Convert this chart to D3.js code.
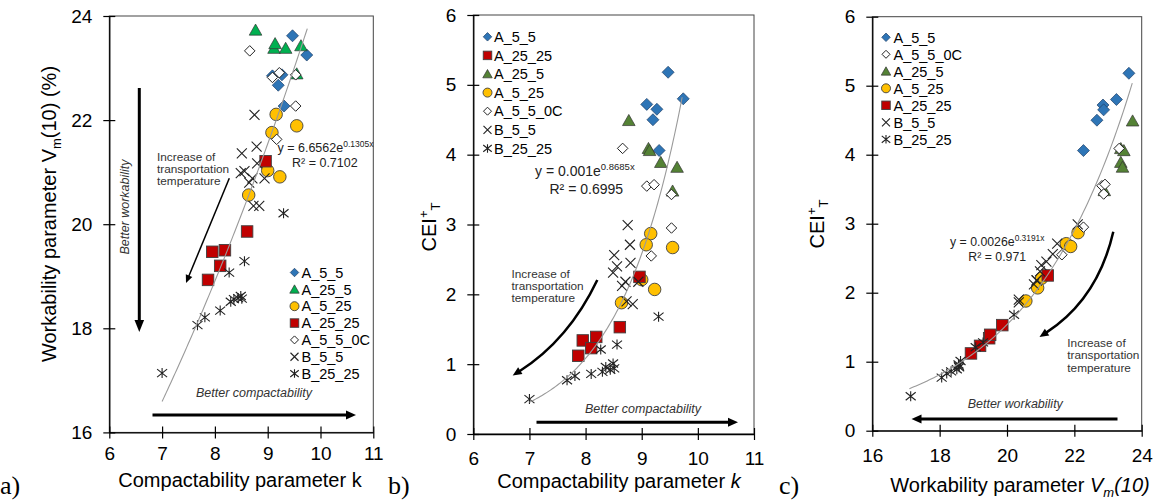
<!DOCTYPE html>
<html><head><meta charset="utf-8">
<script src="https://cdn.jsdelivr.net/npm/d3@7"></script>
<style>body{margin:0;background:#fff} svg{display:block}</style>
</head><body><svg id="c" width="1159" height="504"></svg>
<script>
// ---------------- DATA ----------------
const seriesNames = ["A_5_5","A_25_5","A_5_25","A_25_25","A_5_5_0C","B_5_5","B_25_25"];

const k_A_5_5   = [9.47, 9.74, 9.09, 9.27, 9.20, 9.31];
const vm_A_5_5  = [23.62, 23.25, 22.85, 22.87, 22.67, 22.27];
const cei_A_5_5 = [5.18, 4.80, 4.72, 4.65, 4.50, 4.06];

const k_A_25_5   = [8.77, 9.12, 9.14, 9.34, 9.63, 9.55];
const vm_A_25_5  = [23.73, 23.38, 23.47, 23.38, 23.43, 22.89];
const cei_A_25_5 = [4.49, 4.09, 4.06, 3.89, 3.82, 3.48];

const k_A_5_25   = [9.16, 9.08, 9.55, 9.00, 9.23, 8.64];
const vm_A_5_25  = [22.11, 21.76, 21.89, 21.03, 20.91, 20.56];
const cei_A_5_25 = [2.87, 2.71, 2.67, 2.21, 2.07, 1.88];

const k_A_25_25   = [8.96, 8.61, 7.95, 8.19, 8.10, 7.87];
const vm_A_25_25  = [21.21, 19.86, 19.47, 19.50, 19.20, 18.93];
const cei_A_25_25 = [2.25, 1.53, 1.34, 1.39, 1.23, 1.12];

const k_A_5_5_0C   = [8.66, 9.09, 9.22, 9.53, 9.53, 9.17];
const vm_A_5_5_0C  = [23.33, 22.82, 22.91, 22.87, 22.27, 21.63];
const cei_A_5_5_0C = [4.09, 3.55, 3.57, 3.43, 2.95, 2.55];

const k_B_5_5   = [8.75, 8.79, 8.51, 8.80, 8.56, 8.49, 8.71, 8.65, 8.94, 8.73, 8.84];
const vm_B_5_5  = [22.10, 21.49, 21.36, 21.17, 21.02, 20.98, 20.88, 20.80, 20.88, 20.35, 20.35];
const cei_B_5_5 = [2.99, 2.71, 2.56, 2.45, 2.40, 2.31, 2.18, 2.12, 2.18, 1.90, 1.86];

const k_B_25_25   = [7.00, 7.67, 7.81, 8.10, 8.27, 8.56, 8.30, 8.36, 8.44, 8.49, 8.51, 9.30];
const vm_B_25_25  = [17.14, 18.06, 18.21, 18.34, 19.07, 19.29, 18.51, 18.56, 18.58, 18.62, 18.57, 20.21];
const cei_B_25_25 = [0.50, 0.77, 0.83, 0.86, 1.21, 1.28, 0.89, 0.96, 0.92, 1.01, 0.94, 1.68];

// tick labels
const kTicks   = [6, 7, 8, 9, 10, 11];
const vmTicksA = [16, 18, 20, 22, 24];
const ceiTicks = [0, 1, 2, 3, 4, 5, 6];
const vmTicksC = [16, 18, 20, 22, 24];

// legend orders per panel
const legendA = ["A_5_5","A_25_5","A_5_25","A_25_25","A_5_5_0C","B_5_5","B_25_25"];
const legendB = ["A_5_5","A_25_25","A_25_5","A_5_25","A_5_5_0C","B_5_5","B_25_25"];
const legendC = ["A_5_5","A_5_5_0C","A_25_5","A_5_25","A_25_25","B_5_5","B_25_25"];

// exponential trend lines y = a*e^(b*x) over [x0, x1]
const trendA = {a: 6.6562, b: 0.1305, x0: 7.0, x1: 9.75};
const trendB = {a: 0.00104, b: 0.8685, x0: 7.0, x1: 9.72};
const trendC = {a: 0.0026, b: 0.3191, x0: 17.1, x1: 23.72};

// ---------------- DRAW ----------------
const dataBy = {
  A_5_5:   {k:k_A_5_5, vm:vm_A_5_5, cei:cei_A_5_5},
  A_25_5:  {k:k_A_25_5, vm:vm_A_25_5, cei:cei_A_25_5},
  A_5_25:  {k:k_A_5_25, vm:vm_A_5_25, cei:cei_A_5_25},
  A_25_25: {k:k_A_25_25, vm:vm_A_25_25, cei:cei_A_25_25},
  A_5_5_0C:{k:k_A_5_5_0C, vm:vm_A_5_5_0C, cei:cei_A_5_5_0C},
  B_5_5:   {k:k_B_5_5, vm:vm_B_5_5, cei:cei_B_5_5},
  B_25_25: {k:k_B_25_25, vm:vm_B_25_25, cei:cei_B_25_25}
};
const markerType = {A_5_5:'diamond', A_25_5:'triangle', A_5_25:'circle', A_25_25:'square', A_5_5_0C:'odiamond', B_5_5:'cross', B_25_25:'star'};
const baseColor = {A_5_5:'#2e75b6', A_25_5:'#548235', A_5_25:'#ffc000', A_25_25:'#c00000', A_5_5_0C:'#ffffff', B_5_5:'#222', B_25_25:'#222'};
const plotSize = {diamond:12, odiamond:10.5, triangle:12, circle:12.5, square:11.5, cross:10, star:10};
const legSize  = {diamond:8.5, odiamond:8, triangle:9, circle:9, square:8.5, cross:8, star:8.5};

const SANS = "'Liberation Sans', Arial, Helvetica, sans-serif";
const SERIF = "'Liberation Serif', 'Times New Roman', serif";
const svg = d3.select("#c");

function drawMarker(g, type, x, y, s, fill) {
  const h = s / 2;
  if (type === 'diamond') {
    g.append('path').attr('d', `M${x},${y-h}L${x+h},${y}L${x},${y+h}L${x-h},${y}Z`)
      .attr('fill', fill).attr('stroke', '#1f3f66').attr('stroke-width', 0.7);
  } else if (type === 'odiamond') {
    g.append('path').attr('d', `M${x},${y-h}L${x+h},${y}L${x},${y+h}L${x-h},${y}Z`)
      .attr('fill', '#fff').attr('stroke', '#222').attr('stroke-width', 1);
  } else if (type === 'triangle') {
    g.append('path').attr('d', `M${x},${y-h}L${x+h*1.05},${y+h*0.85}L${x-h*1.05},${y+h*0.85}Z`)
      .attr('fill', fill).attr('stroke', '#333').attr('stroke-width', 0.7);
  } else if (type === 'circle') {
    g.append('circle').attr('cx', x).attr('cy', y).attr('r', h)
      .attr('fill', fill).attr('stroke', '#404040').attr('stroke-width', 0.9);
  } else if (type === 'square') {
    g.append('rect').attr('x', x-h).attr('y', y-h).attr('width', s).attr('height', s)
      .attr('fill', fill).attr('stroke', '#404040').attr('stroke-width', 0.9);
  } else if (type === 'cross') {
    g.append('path').attr('d', `M${x-h},${y-h}L${x+h},${y+h}M${x-h},${y+h}L${x+h},${y-h}`)
      .attr('stroke', '#222').attr('stroke-width', 1.1).attr('fill', 'none');
  } else if (type === 'star') {
    g.append('path').attr('d', `M${x-h},${y-h*0.8}L${x+h},${y+h*0.8}M${x-h},${y+h*0.8}L${x+h},${y-h*0.8}M${x},${y-h}L${x},${y+h}`)
      .attr('stroke', '#222').attr('stroke-width', 1.1).attr('fill', 'none');
  }
}

function arrow(g, x1, y1, x2, y2, w, L, H, ctrl) {
  let dx, dy;
  if (ctrl) { dx = x2 - ctrl[0]; dy = y2 - ctrl[1]; } else { dx = x2 - x1; dy = y2 - y1; }
  const len = Math.hypot(dx, dy); const ux = dx/len, uy = dy/len;
  const bx = x2 - ux*L, by = y2 - uy*L;
  const d = ctrl ? `M${x1},${y1}Q${ctrl[0]},${ctrl[1]} ${bx+ux*1},${by+uy*1}` : `M${x1},${y1}L${bx+ux*1},${by+uy*1}`;
  g.append('path').attr('d', d).attr('stroke', '#000').attr('stroke-width', w).attr('fill', 'none');
  g.append('path').attr('d', `M${x2},${y2}L${bx - uy*H},${by + ux*H}L${bx + uy*H},${by - ux*H}Z`).attr('fill', '#000');
}

function panel(cfg) {
  const g = svg.append('g');
  const x = d3.scaleLinear().domain(cfg.xd).range(cfg.xr);
  const y = d3.scaleLinear().domain(cfg.yd).range(cfg.yr);
  // frame
  g.append('rect').attr('x', cfg.xr[0]).attr('y', cfg.yr[1]).attr('width', cfg.xr[1]-cfg.xr[0]).attr('height', cfg.yr[0]-cfg.yr[1])
    .attr('fill', 'none').attr('stroke', '#444').attr('stroke-width', 1);
  // axes
  const ax = g.append('g').attr('transform', `translate(0,${cfg.yr[0]})`)
    .call(d3.axisBottom(x).tickValues(cfg.xt).tickFormat(d3.format('d')).tickSize(6).tickSizeOuter(0).tickPadding(cfg.xpad));
  const ay = g.append('g').attr('transform', `translate(${cfg.xr[0]},0)`)
    .call(d3.axisLeft(y).tickValues(cfg.yt).tickFormat(d3.format('d')).tickSize(6).tickSizeOuter(0).tickPadding(11));
  [ax, ay].forEach(a => {
    a.select('.domain').attr('stroke', '#000').attr('stroke-width', 1.3);
    a.selectAll('.tick line').attr('stroke', '#000').attr('stroke-width', 1.2);
    a.selectAll('.tick text').attr('font-family', SANS).attr('font-size', 19).attr('fill', '#000');
  });
  ax.selectAll('.tick line').attr('y1', -6).attr('y2', 6);
  ay.selectAll('.tick line').attr('x1', -6).attr('x2', 6);

  // points
  const pg = g.append('g');
  seriesNames.forEach(name => {
    const d = dataBy[name];
    const xs = d[cfg.xkey], ys = d[cfg.ykey];
    const t = markerType[name];
    const col = (name === 'A_25_5') ? cfg.green : baseColor[name];
    xs.forEach((v, i) => drawMarker(pg, t, x(v), y(ys[i]), plotSize[t], col));
  });
  // trend
  const tr = cfg.trend;
  const pts = d3.range(0, 101).map(i => { const xv = tr.x0 + (tr.x1 - tr.x0) * i / 100; return [xv, tr.a * Math.exp(tr.b * xv)]; });
  g.append('path').attr('d', d3.line().x(p => x(p[0])).y(p => y(p[1]))(pts))
    .attr('fill', 'none').attr('stroke', '#9a9a9a').attr('stroke-width', 1.1);
  // legend
  const lg = g.append('g');
  cfg.legend.forEach((name, i) => {
    const cy = cfg.leg.y + i * cfg.leg.dy;
    const t = markerType[name];
    const col = (name === 'A_25_5') ? cfg.green : baseColor[name];
    drawMarker(lg, t, cfg.leg.mx, cy, legSize[t], col);
    lg.append('text').attr('x', cfg.leg.tx).attr('y', cy + 5.2).text(name)
      .attr('font-family', SANS).attr('font-size', 14.5).attr('fill', '#000');
  });
  return {g, x, y};
}

function eqText(g, x, y, main, sup, fs) {
  const t = g.append('text').attr('x', x).attr('y', y).attr('font-family', SANS).attr('font-size', fs).attr('fill', '#222');
  t.append('tspan').text(main);
  t.append('tspan').text(sup).attr('font-size', fs*0.68).attr('dy', -fs*0.4);
}
function r2Text(g, x, y, str, fs) {
  g.append('text').attr('x', x).attr('y', y).attr('font-family', SANS).attr('font-size', fs).attr('fill', '#222').text(str);
}
function multiText(g, x, y, lines, dy, fs, italic) {
  lines.forEach((l, i) => g.append('text').attr('x', x).attr('y', y + i*dy).text(l)
    .attr('font-family', SANS).attr('font-size', fs).attr('fill', '#333').attr('font-style', italic ? 'italic' : 'normal'));
}

// ---- Panel a ----
const A = panel({xd:[6,11], yd:[16,24], xr:[109.3,373.3], yr:[432.4,16], xt:kTicks, yt:vmTicksA, xpad:8,
  xkey:'k', ykey:'vm', green:'#00b050', trend:trendA, legend:legendA, leg:{mx:294.5, tx:301.5, y:272.5, dy:16.85}});
eqText(A.g, 277.5, 151.5, 'y = 6.6562e', '0.1305x', 12.5);
r2Text(A.g, 292, 166.5, 'R² = 0.7102', 12.5);
multiText(A.g, 157, 160.5, ['Increase of', 'transportation', 'temperature'], 12.3, 11.8, false);
arrow(A.g, 229.3, 178.3, 186, 283, 1.5, 8, 3.5);
arrow(A.g, 139.3, 88, 139.3, 332, 3, 12, 4.8);
arrow(A.g, 152.5, 415, 356, 415, 3, 10, 4.5);
A.g.append('text').attr('transform', 'translate(129,207) rotate(-90)').attr('text-anchor', 'middle')
  .attr('font-family', SANS).attr('font-size', 12.5).attr('font-style', 'italic').attr('fill', '#333').text('Better workability');
A.g.append('text').attr('x', 254).attr('y', 397).attr('text-anchor', 'middle')
  .attr('font-family', SANS).attr('font-size', 12.5).attr('font-style', 'italic').attr('fill', '#333').text('Better compactability');
{
  const t = A.g.append('text').attr('x', 240).attr('y', 487).attr('text-anchor', 'middle')
    .attr('font-family', SANS).attr('font-size', 20).attr('fill', '#000').text('Compactability parameter k');
  const ty = A.g.append('text').attr('transform', 'translate(56,214) rotate(-90)').attr('text-anchor', 'middle')
    .attr('font-family', SANS).attr('font-size', 20).attr('fill', '#000');
  ty.append('tspan').text('Workability parameter V');
  ty.append('tspan').text('m').attr('font-size', 13).attr('dy', 5);
  ty.append('tspan').text('(10) (%)').attr('dy', -5);
}
svg.append('text').attr('x', 0).attr('y', 494).text('a)').attr('font-family', SERIF).attr('font-size', 26).attr('fill', '#000');

// ---- Panel b ----
const B = panel({xd:[6,11], yd:[0,6], xr:[473.3,754], yr:[434,15], xt:kTicks, yt:ceiTicks, xpad:11.5,
  xkey:'k', ykey:'cei', green:'#548235', trend:trendB, legend:legendB, leg:{mx:487.5, tx:494, y:36.8, dy:18.6}});
eqText(B.g, 535, 176, 'y = 0.001e', '0.8685x', 14);
r2Text(B.g, 549.5, 193.5, 'R² = 0.6995', 14);
multiText(B.g, 511.5, 277.5, ['Increase of', 'transportation', 'temperature'], 12.3, 11.8, false);
arrow(B.g, 597.3, 280, 512.7, 375.5, 2.5, 9, 4, [568.8, 339.8]);
arrow(B.g, 536.5, 422.3, 738, 422.3, 3, 10, 4.5);
B.g.append('text').attr('x', 585).attr('y', 413.3)
  .attr('font-family', SANS).attr('font-size', 12.5).attr('font-style', 'italic').attr('fill', '#333').text('Better compactability');
{
  const t = B.g.append('text').attr('x', 619).attr('y', 488).attr('text-anchor', 'middle')
    .attr('font-family', SANS).attr('font-size', 20).attr('fill', '#000');
  t.append('tspan').text('Compactability parameter ');
  t.append('tspan').text('k').attr('font-style', 'italic');
  const ty = B.g.append('text').attr('transform', 'translate(436,227) rotate(-90)').attr('text-anchor', 'middle')
    .attr('font-family', SANS).attr('font-size', 20).attr('fill', '#000');
  ty.append('tspan').text('CEI');
  ty.append('tspan').text('+').attr('font-size', 13).attr('dy', -8);
  ty.append('tspan').text('T').attr('font-size', 13).attr('dy', 12);
}
svg.append('text').attr('x', 388).attr('y', 494).text('b)').attr('font-family', SERIF).attr('font-size', 26).attr('fill', '#000');

// ---- Panel c ----
const C = panel({xd:[16,24], yd:[0,6], xr:[872.3,1141.7], yr:[430.7,16.7], xt:vmTicksC, yt:ceiTicks, xpad:11.5,
  xkey:'vm', ykey:'cei', green:'#548235', trend:trendC, legend:legendC, leg:{mx:886, tx:893.5, y:37.3, dy:17}});
eqText(C.g, 950, 246, 'y = 0.0026e', '0.3191x', 12.3);
r2Text(C.g, 968.3, 260.5, 'R² = 0.971', 12.3);
multiText(C.g, 1067.3, 346.5, ['Increase of', 'transportation', 'temperature'], 12.6, 11.8, false);
arrow(C.g, 1113.3, 231.7, 1039.5, 337, 2.5, 9, 4, [1097.8, 299.1]);
arrow(C.g, 1117.5, 419, 911.5, 419, 3, 10, 4.5);
C.g.append('text').attr('x', 967.7).attr('y', 408.3)
  .attr('font-family', SANS).attr('font-size', 12.5).attr('font-style', 'italic').attr('fill', '#333').text('Better workability');
{
  const t = C.g.append('text').attr('x', 1020).attr('y', 492).attr('text-anchor', 'middle')
    .attr('font-family', SANS).attr('font-size', 20).attr('fill', '#000');
  t.append('tspan').text('Workability parameter ');
  t.append('tspan').text('V').attr('font-style', 'italic');
  t.append('tspan').text('m').attr('font-style', 'italic').attr('font-size', 13).attr('dy', 5);
  t.append('tspan').text('(10)').attr('font-style', 'italic').attr('dy', -5);
  const ty = C.g.append('text').attr('transform', 'translate(824,224) rotate(-90)').attr('text-anchor', 'middle')
    .attr('font-family', SANS).attr('font-size', 20).attr('fill', '#000');
  ty.append('tspan').text('CEI');
  ty.append('tspan').text('+').attr('font-size', 13).attr('dy', -8);
  ty.append('tspan').text('T').attr('font-size', 13).attr('dy', 12);
}
svg.append('text').attr('x', 779).attr('y', 494).text('c)').attr('font-family', SERIF).attr('font-size', 26).attr('fill', '#000');
</script></body></html>
